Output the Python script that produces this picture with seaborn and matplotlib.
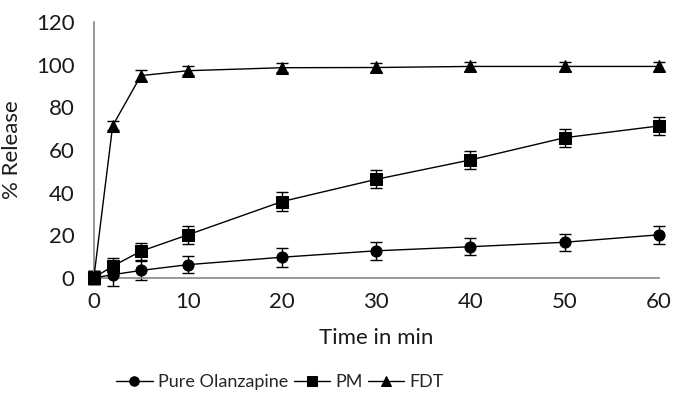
import numpy as np
import pandas as pd
import matplotlib
matplotlib.use('Agg')
import matplotlib.pyplot as plt
import seaborn as sns

time_min = [0, 2, 5, 10, 20, 30, 40, 50, 60]
pure_olanzapine = [0, 1.5, 3.5, 6.2, 9.7, 12.7, 14.6, 16.7, 20.2]
pure_err = [3.0, 5.5, 4.3, 4.1, 4.5, 4.1, 4.1, 4.1, 4.1]
pm = [0, 5.5, 12.5, 20.2, 35.8, 46.2, 55.3, 65.7, 71.2]
pm_err = [3.0, 4.0, 4.0, 4.1, 4.4, 4.2, 4.3, 4.2, 4.2]
fdt = [0, 71.3, 94.8, 97.1, 98.5, 98.6, 99.1, 99.1, 99.1]
fdt_err = [3.0, 2.0, 2.5, 2.0, 2.2, 2.0, 2.0, 2.0, 2.2]

series = ['Pure Olanzapine', 'PM', 'FDT']
markers = ['o', 's', '^']

df = pd.DataFrame({
    'time': time_min * 3,
    'release': pure_olanzapine + pm + fdt,
    'err': pure_err + pm_err + fdt_err,
    'series': np.repeat(series, len(time_min)),
})

sns.set_style('white')
plt.rcParams['font.family'] = ['Lato', 'DejaVu Sans']

fig = plt.figure(figsize=(6.75, 3.97), dpi=100)
ax = fig.add_axes([0.139, 0.300, 0.837, 0.645])

for name, mk in zip(series, markers):
    sub = df[df['series'] == name]
    ax.errorbar(sub['time'], sub['release'], yerr=sub['err'], fmt='none',
                ecolor='black', elinewidth=1, capsize=4, capthick=1, zorder=2,
                clip_on=False)

sns.lineplot(data=df, x='time', y='release', hue='series', style='series',
             markers=markers, dashes=False, palette=['black'] * 3,
             markersize=8, linewidth=1, markeredgecolor='black',
             ax=ax, zorder=3, clip_on=False)

ax.set_xlim(0, 60)
ax.set_ylim(0, 120)
ax.set_xticks(range(0, 61, 10))
ax.set_yticks(range(0, 121, 20))
ax.tick_params(axis='both', labelsize=16, length=0, colors='#1a1a1a')
ax.tick_params(axis='x', pad=10)
ax.tick_params(axis='y', pad=14)
ax.set_xlabel('Time in min', fontsize=16, labelpad=12, color='#1a1a1a')
ax.set_ylabel('% Release', fontsize=16, labelpad=10, color='#1a1a1a')
for s in ['top', 'right']:
    ax.spines[s].set_visible(False)
for s in ['left', 'bottom']:
    ax.spines[s].set_color('#888888')
    ax.spines[s].set_linewidth(1.2)

handles, labels = ax.get_legend_handles_labels()
ax.get_legend().remove()
fig.legend(handles, labels, loc='center', bbox_to_anchor=(0.415, 0.038),
           ncol=3, frameon=False, fontsize=13, handlelength=2.0,
           handletextpad=0.3, columnspacing=0.3, markerscale=0.85)

fig.savefig('out.png', dpi=100)
